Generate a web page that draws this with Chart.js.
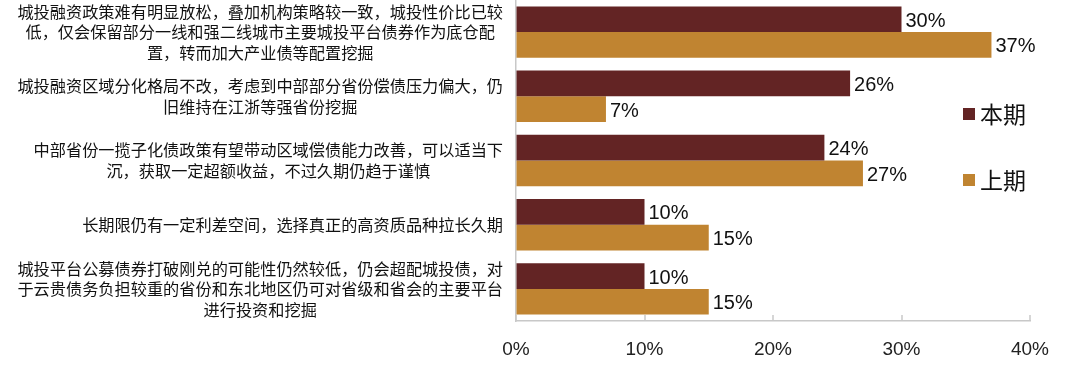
<!DOCTYPE html>
<html>
<head>
<meta charset="utf-8">
<script src="https://cdn.jsdelivr.net/npm/chart.js@4.4.1/dist/chart.umd.min.js"></script>
<style>
  html, body { margin: 0; padding: 0; background: #fff; }
  #wrap { width: 1080px; height: 365px; position: relative; }
</style>
</head>
<body>
<div id="wrap"><canvas id="grafico"></canvas></div>
<script>
// categorias (linhas já quebradas como no original)
const categorias = [
    ['城投融资政策难有明显放松，叠加机构策略较一致，城投性价比已较', '低，仅会保留部分一线和强二线城市主要城投平台债券作为底仓配', '置，转而加大产业债等配置挖掘'],
    ['城投融资区域分化格局不改，考虑到中部部分省份偿债压力偏大，仍', '旧维持在江浙等强省份挖掘'],
    ['中部省份一揽子化债政策有望带动区域偿债能力改善，可以适当下', '沉，获取一定超额收益，不过久期仍趋于谨慎'],
    ['长期限仍有一定利差空间，选择真正的高资质品种拉长久期'],
    ['城投平台公募债券打破刚兑的可能性仍然较低，仍会超配城投债，对', '于云贵债务负担较重的省份和东北地区仍可对省级和省会的主要平台', '进行投资和挖掘']
];
const seriesNomes = ['本期', '上期'];
const valoresBenqi = [30, 26, 24, 10, 10];
const valoresShangqi = [37, 7, 27, 15, 15];
const ticksX = [0, 10, 20, 30, 40];

const corBenqi = '#632424';
const corShangqi = '#C08431';
const corEixo = '#c8c8c8';
const fonteLatina = '"Liberation Sans", Arial, sans-serif';
const fonteCJK = '"Noto Sans CJK SC", "Liberation Sans", sans-serif';

// rótulos do eixo Y desenhados à mão (bloco alinhado à direita, linhas centralizadas)
const rotulosY = {
    id: 'rotulosY',
    afterDraw(chart) {
        const c = chart.ctx;
        const y = chart.scales.y;
        const direita = chart.chartArea.left - 13;
        c.save();
        c.font = '16.2px ' + fonteCJK;
        c.fillStyle = '#111';
        c.textAlign = 'center';
        c.textBaseline = 'middle';
        categorias.forEach((linhas, i) => {
            const centro = y.getPixelForValue(i);
            const larg = Math.max(...linhas.map(l => c.measureText(l).width));
            const x = direita - larg / 2;
            const alt = 20.5;
            const topo = centro - (linhas.length - 1) * alt / 2;
            linhas.forEach((l, k) => c.fillText(l, x, topo + k * alt));
        });
        c.restore();
    }
};

// marcas do eixo X voltadas para dentro
const marcasX = {
    id: 'marcasX',
    afterDraw(chart) {
        const c = chart.ctx;
        const x = chart.scales.x;
        const base = chart.chartArea.bottom;
        c.save();
        c.strokeStyle = corEixo;
        c.lineWidth = 1.5;
        ticksX.forEach(v => {
            const px = Math.round(x.getPixelForValue(v));
            c.beginPath();
            c.moveTo(px, base);
            c.lineTo(px, base - 6);
            c.stroke();
        });
        c.restore();
    }
};

// valores no fim das barras
const rotulosValor = {
    id: 'rotulosValor',
    afterDatasetsDraw(chart) {
        const c = chart.ctx;
        c.save();
        c.font = '20px ' + fonteLatina;
        c.fillStyle = '#111';
        c.textAlign = 'left';
        c.textBaseline = 'middle';
        chart.data.datasets.forEach((ds, d) => {
            chart.getDatasetMeta(d).data.forEach((bar, i) => {
                c.fillText(ds.data[i] + '%', bar.x + 4, bar.y + 2);
            });
        });
        c.restore();
    }
};

// legenda dentro da área do gráfico
const legendaDireita = {
    id: 'legendaDireita',
    afterDraw(chart) {
        const c = chart.ctx;
        c.save();
        c.textBaseline = 'middle';
        c.textAlign = 'left';
        c.font = '23px ' + fonteCJK;
        const posY = [114, 180];
        chart.data.datasets.forEach((ds, d) => {
            c.fillStyle = ds.backgroundColor;
            c.fillRect(963, posY[d] - 6, 12, 12);
            c.fillStyle = '#111';
            c.fillText(ds.label, 980, posY[d]);
        });
        c.restore();
    }
};

new Chart(document.getElementById('grafico').getContext('2d'), {
    type: 'bar',
    data: {
        labels: categorias,
        datasets: [
            { label: seriesNomes[0], data: valoresBenqi, backgroundColor: corBenqi },
            { label: seriesNomes[1], data: valoresShangqi, backgroundColor: corShangqi }
        ]
    },
    options: {
        indexAxis: 'y',
        responsive: true,
        maintainAspectRatio: false,
        animation: false,
        datasets: { bar: { categoryPercentage: 0.8, barPercentage: 1 } },
        layout: { padding: { left: 516, right: 50, top: 0, bottom: 0 } },
        plugins: { legend: { display: false }, tooltip: { enabled: false } },
        scales: {
            y: {
                afterFit(scale) { scale.width = 0; },
                ticks: { display: false },
                grid: { display: false },
                border: { display: true, color: corEixo, width: 1.5 }
            },
            x: {
                min: ticksX[0],
                max: ticksX[ticksX.length - 1],
                afterBuildTicks(scale) {
                    scale.ticks = ticksX.map(v => ({ value: v }));
                },
                afterFit(scale) { scale.height = 44; },
                ticks: {
                    callback: v => v + '%',
                    font: { family: fonteLatina, size: 19 },
                    color: '#222',
                    padding: 17
                },
                grid: { display: true, drawOnChartArea: false, drawTicks: false, tickLength: 0 },
                border: { display: true, color: corEixo, width: 1.5 }
            }
        }
    },
    plugins: [rotulosY, marcasX, rotulosValor, legendaDireita]
});
</script>
</body>
</html>
